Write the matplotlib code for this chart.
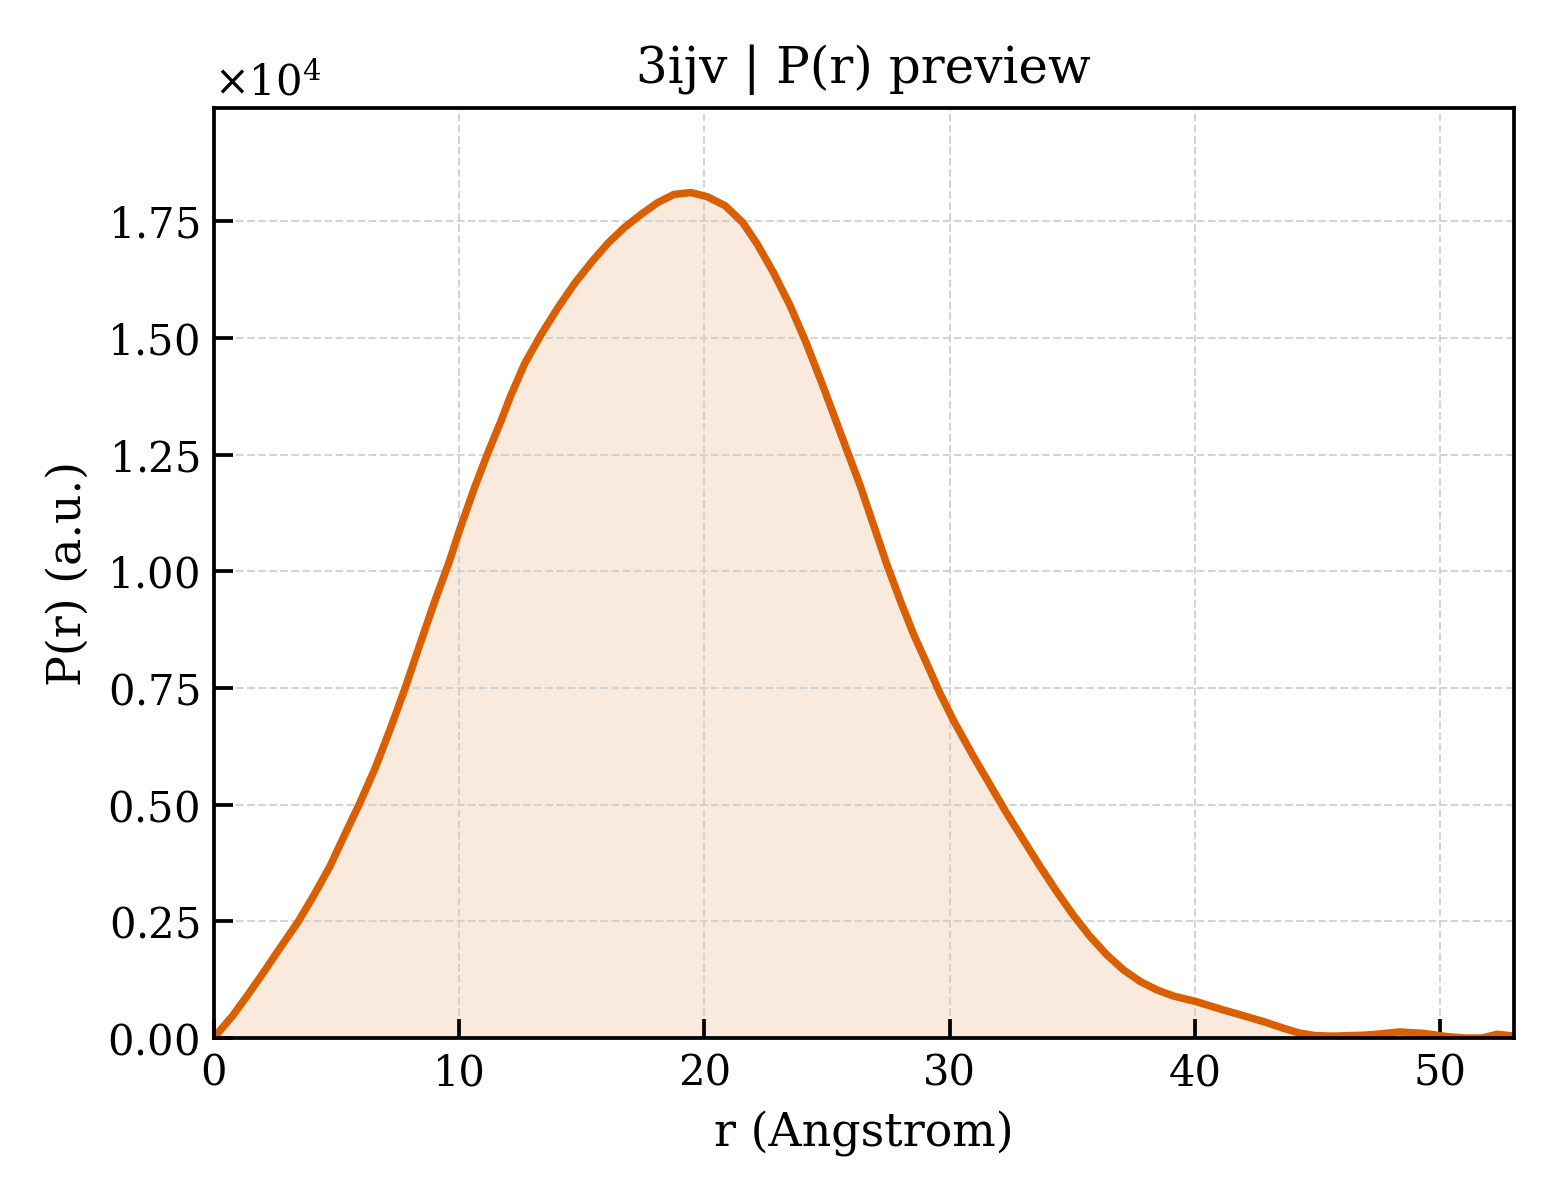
import matplotlib
matplotlib.use("Agg")
import matplotlib.pyplot as plt
from matplotlib.ticker import ScalarFormatter

r_vals = [0.0, 0.79, 1.33, 2.01, 2.69, 3.44, 4.05, 4.73, 5.27, 5.95, 6.57,
          7.18, 7.79, 8.40, 9.01, 9.62, 10.03, 10.64, 11.19, 11.73, 12.07,
          12.68, 13.36, 14.04, 14.72, 15.40, 16.08, 16.76, 17.44, 18.08,
          18.76, 19.45, 20.12, 20.84, 21.56, 22.16, 22.81, 23.49, 24.14,
          24.85, 25.46, 26.35, 26.89, 27.43, 27.98, 28.52, 29.07, 29.61,
          30.15, 30.97, 31.65, 32.33, 33.01, 33.69, 34.37, 35.04, 35.73,
          36.41, 37.08, 37.77, 38.45, 39.12, 40.05, 41.16, 41.83, 42.86,
          43.6, 44.23, 44.9, 45.63, 46.9, 47.6, 48.31, 49.3, 50.28, 51.0,
          51.7, 52.32, 53.0]
pr_vals = [0.0, 0.049, 0.088, 0.139, 0.192, 0.249, 0.303, 0.367, 0.428,
           0.503, 0.577, 0.660, 0.748, 0.843, 0.936, 1.024, 1.090, 1.181,
           1.256, 1.325, 1.372, 1.446, 1.509, 1.566, 1.618, 1.663, 1.704,
           1.738, 1.766, 1.790, 1.808, 1.812, 1.803, 1.784, 1.748, 1.701,
           1.641, 1.570, 1.491, 1.395, 1.309, 1.184, 1.100, 1.016, 0.938,
           0.866, 0.802, 0.738, 0.681, 0.603, 0.542, 0.481, 0.424, 0.367,
           0.313, 0.263, 0.217, 0.178, 0.146, 0.121, 0.103, 0.090, 0.078,
           0.060, 0.050, 0.034, 0.021, 0.011, 0.005, 0.004, 0.006, 0.009,
           0.013, 0.010, 0.003, 0.0, 0.0, 0.008, 0.004]
pr_vals = [v * 1e4 for v in pr_vals]

title = "3ijv | P(r) preview"
line_color = "#D95F02"

plt.rcParams['font.family'] = ['DejaVu Serif']
plt.rcParams['mathtext.fontset'] = 'dejavuserif'

fig, ax = plt.subplots(figsize=(5.2, 4.0), dpi=300)
fig.subplots_adjust(left=0.137, right=0.9705, top=0.91, bottom=0.135)

ax.fill_between(r_vals, pr_vals, 0, color=line_color, alpha=0.13, lw=0)
ax.plot(r_vals, pr_vals, color=line_color, lw=1.8)

ax.set_xlim(0, 53)
ax.set_ylim(0, max(pr_vals) * 1.1)

fmt = ScalarFormatter(useMathText=True)
fmt.set_powerlimits((0, 0))
ax.yaxis.set_major_formatter(fmt)

ax.grid(True, ls='--', lw=0.5, color='#d0d0d0', alpha=0.9)
ax.tick_params(direction='in', length=4.5, width=0.9, labelsize=10)
for s in ax.spines.values():
    s.set_linewidth(0.9)

ax.set_xlabel("r (Angstrom)", fontsize=11)
ax.set_ylabel("P(r) (a.u.)", fontsize=11)
ax.set_title(title, fontsize=12)

fig.savefig("out.png", dpi=300)
